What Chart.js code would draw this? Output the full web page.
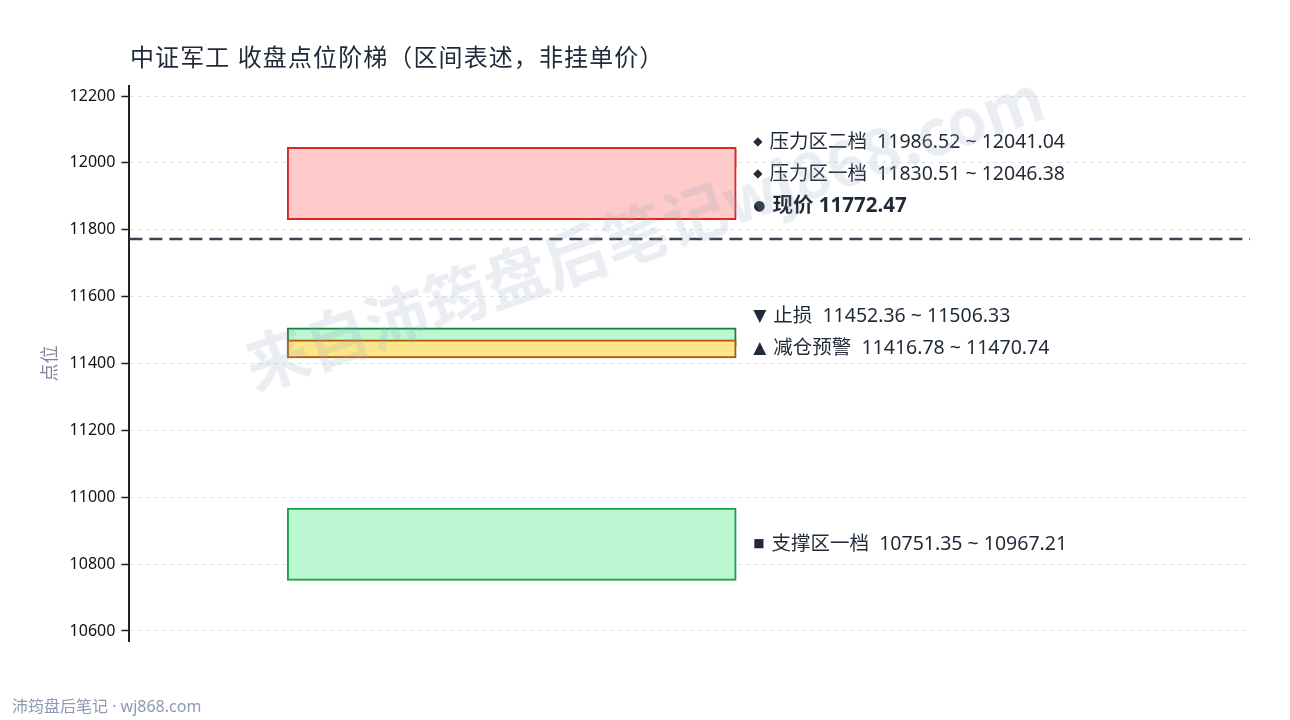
<!DOCTYPE html>
<html><head><meta charset="utf-8">
<script src="https://cdn.jsdelivr.net/npm/chart.js@4.4.0/dist/chart.umd.min.js"></script>
<style>
html,body{margin:0;padding:0;background:#fff;}
#wrap{position:relative;width:1290px;height:720px;overflow:hidden;font-family:"Noto Sans","Noto Sans CJK SC",sans-serif;}
#title{position:absolute;left:130px;top:38px;font-size:24px;letter-spacing:1.1px;color:#1f2937;white-space:nowrap;}
#footer{position:absolute;left:12px;top:693px;font-size:16px;color:#8e9ab2;white-space:nowrap;}
#wm{position:absolute;left:643px;top:228px;transform:translate(-50%,-50%) rotate(-19deg);font-size:63px;font-weight:700;color:rgba(148,163,184,0.2);white-space:nowrap;pointer-events:none;z-index:2;font-family:"Noto Sans CJK SC","Noto Sans",sans-serif;}
#c{position:absolute;left:0;top:0;}
</style></head>
<body>
<div id="wrap">
<canvas id="c" width="1290" height="720"></canvas>
<div id="title">中证军工 收盘点位阶梯（区间表述，非挂单价）</div>
<div id="wm">来自沛筠盘后笔记wj868.com</div>
<div id="footer">沛筠盘后笔记 · wj868.com</div>
</div>
<script>
const zoneNames = ['压力区二档', '压力区一档', '止损', '减仓预警', '支撑区一档'];
const zoneLow = [11986.52, 11830.51, 11452.36, 11416.78, 10751.35];
const zoneHigh = [12041.04, 12046.38, 11506.33, 11470.74, 10967.21];
const zoneMarkers = ['◆', '◆', '▼', '▲', '■'];
const currentPriceLabel = '现价';
const currentPrice = 11772.47;
const yAxisTitle = '点位';
const yMin = 10570, yMax = 12230, yStep = 200;

const zoneFill = ['#fecaca', '#fecaca', '#bbf7d0', '#fde68a', '#bbf7d0'];
const zoneBorder = ['#dc2626', '#dc2626', '#15803d', '#b45309', '#16a34a'];
const markerSize = [12, 12, 17, 17, 12];
const BOX_X = 0.3412;
const BOX_W = 449;
const LABEL_FONT = '"Noto Sans", "Noto Sans CJK SC"';

const datasets = zoneNames.map((n, i) => ({
  type: 'bar',
  label: n,
  data: [{x: BOX_X, y: [zoneLow[i], zoneHigh[i]]}],
  backgroundColor: zoneFill[i],
  borderColor: zoneBorder[i],
  borderWidth: 2,
  borderSkipped: false,
  barThickness: BOX_W,
  grouped: false,
  order: 10 - i
}));
datasets.push({
  type: 'line',
  label: currentPriceLabel,
  data: [{x: 0, y: currentPrice}, {x: 1, y: currentPrice}],
  borderColor: '#374151',
  borderWidth: 2.5,
  borderDash: [13, 7],
  pointRadius: 0,
  order: 0
});

const labelPlugin = {
  id: 'zoneLabels',
  afterDatasetsDraw(chart) {
    const ctx = chart.ctx;
    const ys = chart.scales.y, xs = chart.scales.x;
    const items = zoneNames.map((n, i) => ({
      marker: zoneMarkers[i], msize: markerSize[i],
      text: n + '  ' + zoneLow[i].toFixed(2) + ' ~ ' + zoneHigh[i].toFixed(2),
      bold: false,
      y: ys.getPixelForValue((zoneLow[i] + zoneHigh[i]) / 2)
    }));
    items.push({marker: '●', msize: 14, text: currentPriceLabel + ' ' + currentPrice.toFixed(2), bold: true,
      y: ys.getPixelForValue(currentPrice) - 33});
    items.sort((a, b) => a.y - b.y);
    for (let i = items.length - 2; i >= 0; i--) {
      items[i].y = Math.min(items[i].y, items[i + 1].y - 32);
    }
    const x0 = xs.getPixelForValue(BOX_X) + BOX_W / 2 + 17;
    ctx.save();
    ctx.textBaseline = 'middle';
    ctx.fillStyle = '#1f2937';
    items.forEach(it => {
      ctx.font = it.msize + 'px "DejaVu Sans"';
      ctx.textAlign = 'left';
      const mw = ctx.measureText(it.marker).width;
      ctx.fillText(it.marker, x0, it.y);
      ctx.font = (it.bold ? 'bold 20.5px ' : '19.5px ') + LABEL_FONT;
      ctx.fillText(it.text, x0 + mw + 7, it.y);
    });
    ctx.restore();
  }
};

new Chart(document.getElementById('c'), {
  type: 'bar',
  data: {datasets},
  options: {
    responsive: false,
    animation: false,
    devicePixelRatio: 1,
    layout: {padding: {left: 34, top: 86, right: 40, bottom: 79}},
    plugins: {legend: {display: false}, tooltip: {enabled: false}},
    scales: {
      x: {type: 'linear', min: 0, max: 1, display: false, offset: false},
      y: {
        type: 'linear', min: yMin, max: yMax,
        ticks: {stepSize: yStep, includeBounds: false, color: '#111',
          font: {size: 16, family: LABEL_FONT}, padding: 6,
          callback: v => String(v)},
        grid: {color: '#e2e4e8', tickColor: '#222', tickLength: 8, tickWidth: 1.5},
        border: {display: true, color: '#222', width: 2, dash: [4, 4]},
        title: {display: true, text: yAxisTitle, color: '#7b8597',
          font: {size: 18, family: '"Noto Sans CJK SC"'}, padding: 4}
      }
    }
  },
  plugins: [labelPlugin]
});
</script>
</body></html>
